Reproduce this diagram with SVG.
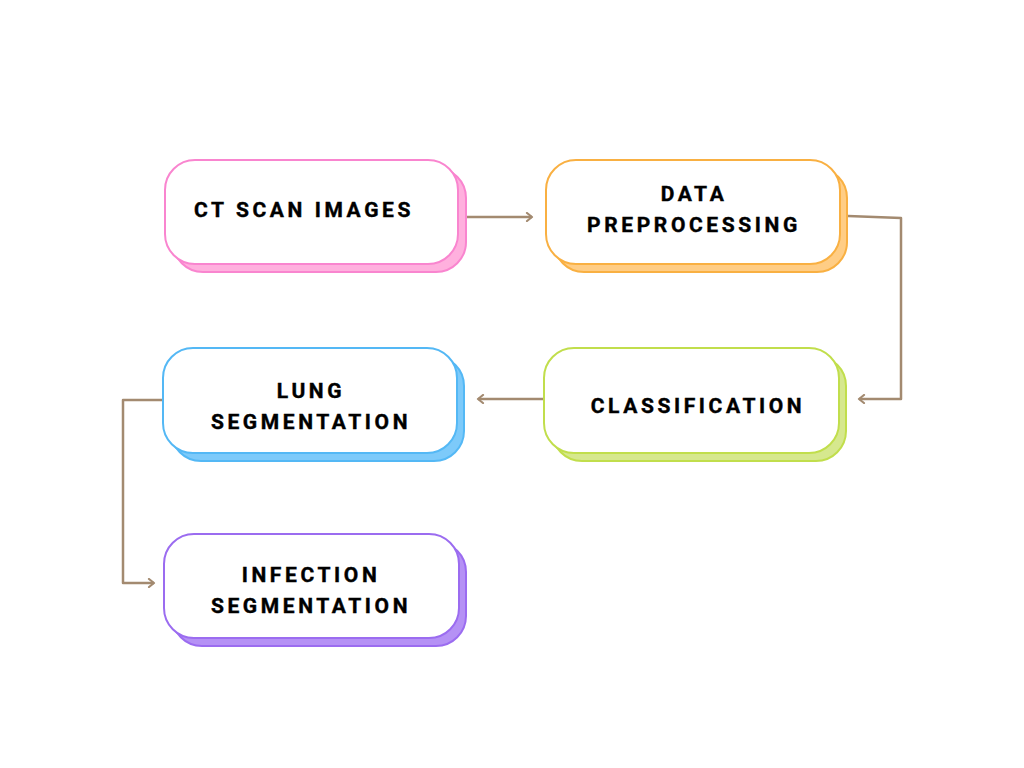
<svg xmlns="http://www.w3.org/2000/svg" width="1024" height="768" viewBox="0 0 1024 768">
<defs>
<style>
.front{fill:#ffffff;stroke-width:2}
.lbl{font-family:Roboto,"Liberation Sans",sans-serif;font-weight:bold;font-size:21px;letter-spacing:3.6px;fill:#000;stroke:#000;stroke-width:0.4;text-anchor:middle}
.conn{fill:none;stroke:#a38a70;stroke-width:2.5;stroke-linejoin:round}
</style>
<marker id="arr" viewBox="0 0 10 10" refX="8" refY="5" markerWidth="10" markerHeight="10" markerUnits="userSpaceOnUse" orient="auto">
<path d="M3,1 L8,5 L3,9" fill="none" stroke="#a38a70" stroke-width="2.2" stroke-linecap="round" stroke-linejoin="round"/>
</marker>
</defs>
<rect width="1024" height="768" fill="#ffffff"/>
<g id="connectors">
<path class="conn" d="M467,217 L532,217" marker-end="url(#arr)"/>
<path class="conn" d="M848,216 L901,218 L901,399 L859,399" marker-end="url(#arr)"/>
<path class="conn" d="M543,399 L478,399" marker-end="url(#arr)"/>
<path class="conn" d="M163,400 L123,400 L123,583 L154,583" marker-end="url(#arr)"/>
</g>
<g id="n1">
<rect x="173" y="168" width="293" height="104" rx="30" fill="#ffb0de" stroke="#f985cf" stroke-width="2"/>
<rect class="front" x="165" y="160" width="293" height="104" rx="30" stroke="#f985cf"/>
<text class="lbl" x="304" y="217">CT SCAN IMAGES</text>
</g>
<g id="n2">
<rect x="554" y="168" width="293" height="104" rx="30" fill="#ffcd85" stroke="#f9b042" stroke-width="2"/>
<rect class="front" x="546" y="160" width="294" height="104" rx="30" stroke="#f9b042"/>
<text class="lbl" x="694" y="201">DATA</text>
<text class="lbl" x="694" y="232">PREPROCESSING</text>
</g>
<g id="n3">
<rect x="552" y="356" width="294" height="105" rx="30" fill="#d6e88e" stroke="#c1de4c" stroke-width="2"/>
<rect class="front" x="544" y="348" width="295" height="105" rx="30" stroke="#c1de4c"/>
<text class="lbl" x="698" y="413">CLASSIFICATION</text>
</g>
<g id="n4">
<rect x="171" y="356" width="293" height="105" rx="30" fill="#7dcafa" stroke="#54b8f5" stroke-width="2"/>
<rect class="front" x="163" y="348" width="294" height="105" rx="30" stroke="#54b8f5"/>
<text class="lbl" x="311" y="398">LUNG</text>
<text class="lbl" x="311" y="429">SEGMENTATION</text>
</g>
<g id="n5">
<rect x="172" y="542" width="294" height="104" rx="30" fill="#b591f5" stroke="#9b6cf0" stroke-width="2"/>
<rect class="front" x="164" y="534" width="295" height="104" rx="30" stroke="#9b6cf0"/>
<text class="lbl" x="311" y="582">INFECTION</text>
<text class="lbl" x="311" y="613">SEGMENTATION</text>
</g>
</svg>
